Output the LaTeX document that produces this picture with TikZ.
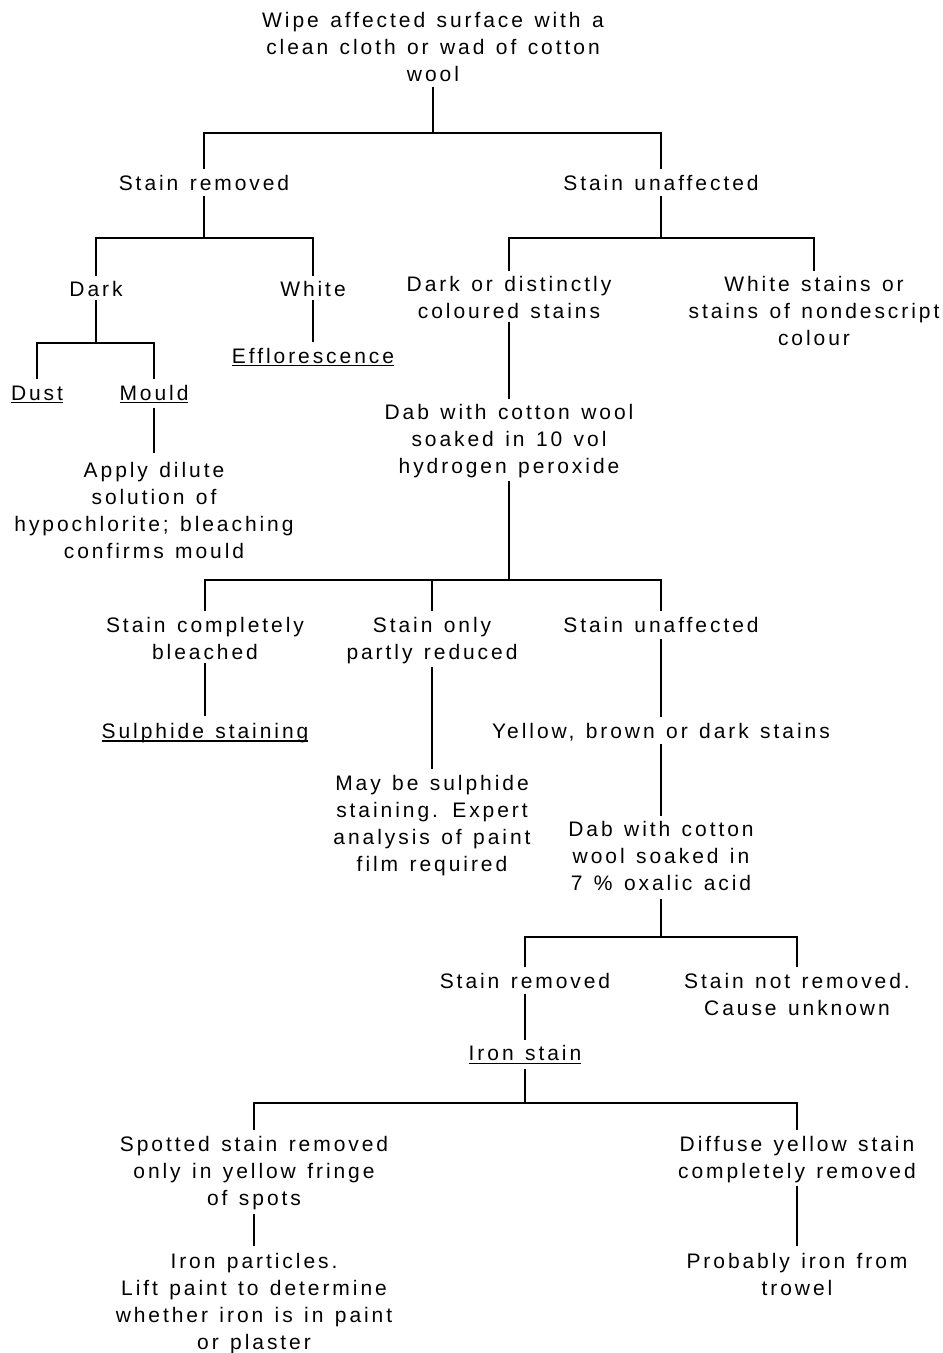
\documentclass[tikz,border=0pt]{standalone}
\usepackage{fontspec}
\setmainfont{Liberation Sans}[LetterSpace=14,WordSpace=1.3]
\newcommand\fst{\rule{0pt}{16pt}}
\newcommand\ulx[1]{\setbox0\hbox{#1}\rlap{\rule[-3.2pt]{\wd0}{1.5pt}}\box0}
\begin{document}
\begin{tikzpicture}[x=1pt,y=-1pt,
  lbl/.style={align=center, inner sep=0pt, anchor=north, font=\fontsize{21}{27}\selectfont},
  conn/.style={line width=2.2pt}]
\useasboundingbox (0,0) rectangle (943,1353);
% nodes
\node[lbl] (top) at (433,11.3) {\fst Wipe affected surface with a\\clean cloth or wad of cotton\\wool};
\node[lbl] (sr1) at (204,174) {\fst Stain removed};
\node[lbl] (su1) at (661,174) {\fst Stain unaffected};
\node[lbl] (dark) at (96,280.7) {\fst Dark};
\node[lbl] (white) at (313,280.7) {\fst White};
\node[lbl] (dust) at (37,384) {\fst\ulx{Dust}};
\node[lbl] (mould) at (154,384) {\fst\ulx{Mould}};
\node[lbl] (apply) at (154,461) {\fst Apply dilute\\solution of\\hypochlorite; bleaching\\confirms mould};
\node[lbl] (efflo) at (313,347) {\fst\ulx{Efflorescence}};
\node[lbl] (dcs) at (509,275.7) {\fst Dark or distinctly\\coloured stains};
\node[lbl] (wsn) at (814,275.7) {\fst White stains or\\stains of nondescript\\colour};
\node[lbl] (dab1) at (509,403) {\fst Dab with cotton wool\\soaked in 10 vol\\hydrogen peroxide};
\node[lbl] (scb) at (205,616.3) {\fst Stain completely\\bleached};
\node[lbl] (sop) at (432,616.3) {\fst Stain only\\partly reduced};
\node[lbl] (su2) at (661,616.3) {\fst Stain unaffected};
\node[lbl] (sulph) at (205,722.3) {\fst\ulx{Sulphide staining}};
\node[lbl] (may) at (432,774) {\fst May be sulphide\\staining. Expert\\analysis of paint\\film required};
\node[lbl] (ybd) at (661,722.3) {\fst Yellow, brown or dark stains};
\node[lbl] (dab2) at (661,820.7) {\fst Dab with cotton\\wool soaked in\\7 \% oxalic acid};
\node[lbl] (sr2) at (525,972.3) {\fst Stain removed};
\node[lbl] (snr) at (797,972.3) {\fst Stain not removed.\\Cause unknown};
\node[lbl] (iron) at (525,1044.7) {\fst\ulx{Iron stain}};
\node[lbl] (spot) at (254,1135) {\fst Spotted stain removed\\only in yellow fringe\\of spots};
\node[lbl] (diff) at (797,1135) {\fst Diffuse yellow stain\\completely removed};
\node[lbl] (ipart) at (254,1252) {\fst Iron particles.\\Lift paint to determine\\whether iron is in paint\\or plaster};
\node[lbl] (prob) at (797,1252) {\fst Probably iron from\\trowel};
% junctions
\coordinate (j0) at (433,133);
\coordinate (j1) at (204,238);
\coordinate (j2) at (96,343);
\coordinate (j3) at (661,238);
\coordinate (j4) at (509,580);
\coordinate (j5) at (661,937);
\coordinate (j6) at (525,1103);
% connectors
\draw[conn] ([yshift=-5pt]top.south) -- (j0);
\draw[conn] ([yshift=5pt]sr1.north) |- (j0) -| ([yshift=5pt]su1.north);
\draw[conn] ([yshift=-5pt]sr1.south) -- (j1);
\draw[conn] ([yshift=5pt]dark.north) |- (j1) -| ([yshift=5pt]white.north);
\draw[conn] ([yshift=-3pt]dark.south) -- (j2);
\draw[conn] ([yshift=5pt]dust.north) |- (j2) -| ([yshift=5pt]mould.north);
\draw[conn] ([yshift=-3pt]white.south) -- ([yshift=5pt]efflo.north);
\draw[conn] ([yshift=-4pt]mould.south) -- ([yshift=8pt]apply.north);
\draw[conn] ([yshift=-5pt]su1.south) -- (j3);
\draw[conn] ([yshift=5pt]dcs.north) |- (j3) -| ([yshift=5pt]wsn.north);
\draw[conn] ([yshift=-3pt]dcs.south) -- ([yshift=4pt]dab1.north);
\draw[conn] ([yshift=-3pt]dab1.south) -- (j4);
\draw[conn] ([yshift=5pt]scb.north) |- (j4) -| ([yshift=5pt]su2.north);
\draw[conn] (j4 -| sop.north) -- ([yshift=5pt]sop.north);
\draw[conn] ([yshift=-3pt]scb.south) -- ([yshift=6pt]sulph.north);
\draw[conn] ([yshift=-3pt]sop.south) -- ([yshift=5pt]may.north);
\draw[conn] ([yshift=-6pt]su2.south) -- ([yshift=5pt]ybd.north);
\draw[conn] ([yshift=-3pt]ybd.south) -- ([yshift=5pt]dab2.north);
\draw[conn] ([yshift=-8pt]dab2.south) -- (j5);
\draw[conn] ([yshift=5pt]sr2.north) |- (j5) -| ([yshift=5pt]snr.north);
\draw[conn] ([yshift=-5pt]sr2.south) -- ([yshift=5pt]iron.north);
\draw[conn] ([yshift=-5pt]iron.south) -- (j6);
\draw[conn] ([yshift=5pt]spot.north) |- (j6) -| ([yshift=5pt]diff.north);
\draw[conn] ([yshift=-4pt]spot.south) -- ([yshift=6pt]ipart.north);
\draw[conn] ([yshift=-3pt]diff.south) -- ([yshift=6pt]prob.north);
\end{tikzpicture}
\end{document}
